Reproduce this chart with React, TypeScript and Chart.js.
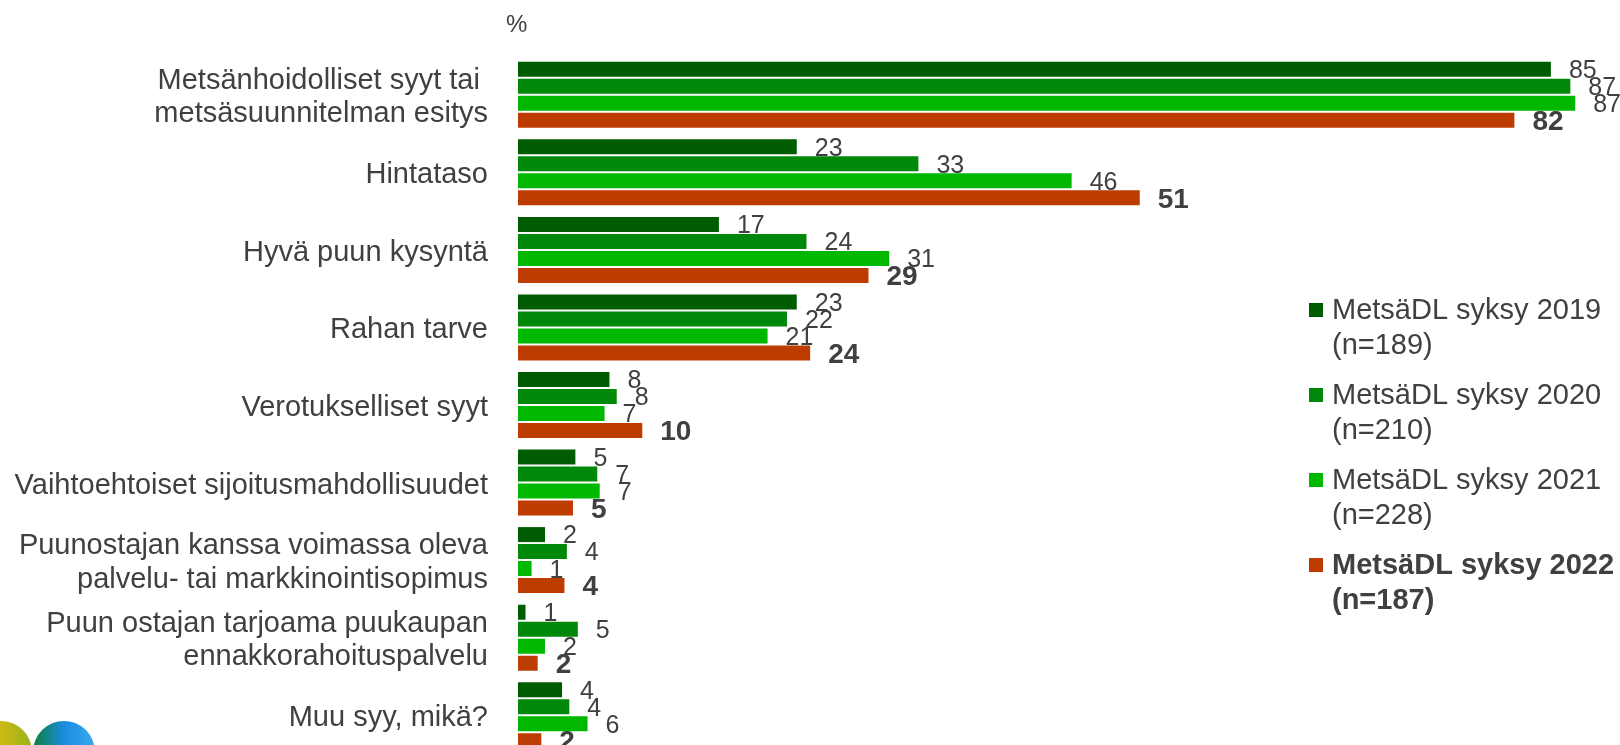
import { useEffect, useRef } from "react";
import { Chart, registerables } from "chart.js";

Chart.register(...registerables);

const FONT = "'Liberation Sans', Arial, Helvetica, sans-serif";
const TEXT = "#404040";

const CATEGORIES: (string | string[])[] = [
  ["Metsänhoidolliset syyt tai ", "metsäsuunnitelman esitys"],
  "Hintataso",
  "Hyvä puun kysyntä",
  "Rahan tarve",
  "Verotukselliset syyt",
  "Vaihtoehtoiset sijoitusmahdollisuudet",
  ["Puunostajan kanssa voimassa oleva", "palvelu- tai markkinointisopimus"],
  ["Puun ostajan tarjoama puukaupan", "ennakkorahoituspalvelu"],
  "Muu syy, mikä?",
];

const SERIES_NAMES: string[][] = [
  ["MetsäDL syksy 2019", "(n=189)"],
  ["MetsäDL syksy 2020", "(n=210)"],
  ["MetsäDL syksy 2021", "(n=228)"],
  ["MetsäDL syksy 2022", "(n=187)"],
];

const VALUES_2019 = [85, 23, 16.6, 23, 7.6, 4.8, 2.3, 0.7, 3.7];
const VALUES_2020 = [86.6, 33, 23.8, 22.2, 8.2, 6.6, 4.1, 5, 4.3];
const VALUES_2021 = [87, 45.6, 30.6, 20.6, 7.2, 6.8, 1.2, 2.3, 5.8];
const VALUES_2022 = [82, 51.2, 28.9, 24.1, 10.3, 4.6, 3.9, 1.7, 2.0];

const SERIES_VALUES = [VALUES_2019, VALUES_2020, VALUES_2021, VALUES_2022];
const COLORS = ["#005C00", "#00880A", "#00B800", "#BF3C00"];

export default function App() {
  const ref = useRef<HTMLCanvasElement>(null);

  useEffect(() => {
    const canvas = ref.current;
    if (!canvas) return;

    const overlay = {
      id: "overlay",
      afterDatasetsDraw(chart: any) {
        const ctx = chart.ctx;
        ctx.save();
        ctx.textBaseline = "middle";
        ctx.textAlign = "left";
        ctx.fillStyle = TEXT;
        SERIES_VALUES.forEach((vals, i) => {
          const meta = chart.getDatasetMeta(i);
          const bold = i === 3;
          ctx.font = bold ? `bold 28px ${FONT}` : `25px ${FONT}`;
          meta.data.forEach((bar: any, j: number) => {
            ctx.fillText(String(Math.round(vals[j])), bar.x + 17, bar.y + 2);
          });
        });
        ctx.restore();
      },
      afterDraw(chart: any) {
        const ctx = chart.ctx;
        ctx.save();
        // "%" unit label
        ctx.fillStyle = TEXT;
        ctx.font = `24px ${FONT}`;
        ctx.textBaseline = "middle";
        ctx.textAlign = "left";
        ctx.fillText("%", chart.chartArea.left - 12, 25);

        // legend
        SERIES_NAMES.forEach((lines, i) => {
          const y1 = 310 + 85 * i;
          ctx.fillStyle = COLORS[i];
          ctx.fillRect(1309, y1 - 7, 14, 14);
          ctx.fillStyle = TEXT;
          ctx.font = i === 3 ? `bold 29px ${FONT}` : `29px ${FONT}`;
          lines.forEach((t, k) => ctx.fillText(t, 1332, y1 + 1 + k * 35));
        });

        // logo circles
        const g1 = ctx.createLinearGradient(-30, 0, 32, 0);
        g1.addColorStop(0, "#FFC20E");
        g1.addColorStop(1, "#98B21C");
        ctx.fillStyle = g1;
        ctx.beginPath();
        ctx.arc(1, 752, 31, 0, Math.PI * 2);
        ctx.fill();
        const g2 = ctx.createLinearGradient(33, 0, 95, 0);
        g2.addColorStop(0, "#0E7F3C");
        g2.addColorStop(0.5, "#1B8BDF");
        g2.addColorStop(1, "#3AAAF0");
        ctx.fillStyle = g2;
        ctx.beginPath();
        ctx.arc(64, 752, 31, 0, Math.PI * 2);
        ctx.fill();
        ctx.restore();
      },
    };

    const chart = new Chart(canvas, {
      type: "bar",
      data: {
        labels: CATEGORIES as any,
        datasets: SERIES_VALUES.map((vals, i) => ({
          label: SERIES_NAMES[i].join(" "),
          data: vals,
          backgroundColor: COLORS[i],
          borderColor: "rgba(255,255,255,0.55)",
          borderWidth: 1,
          categoryPercentage: 0.877,
          barPercentage: 1.0,
        })),
      },
      options: {
        indexAxis: "y",
        responsive: false,
        animation: false,
        layout: { padding: { top: 56, bottom: 6, left: 0, right: 0 } },
        plugins: {
          legend: { display: false },
          tooltip: { enabled: false },
        },
        scales: {
          x: { display: false, min: 0, max: 90.6 },
          y: {
            grid: { display: false, drawTicks: false },
            border: { display: false },
            ticks: {
              autoSkip: false,
              padding: 30,
              labelOffset: 3,
              color: TEXT,
              font: { family: FONT, size: 29, lineHeight: 1.15 },
            },
            afterFit(scale: any) {
              scale.width = 518;
              scale.paddingTop = 0;
              scale.paddingBottom = 0;
            },
          },
        },
      } as any,
      plugins: [overlay],
    });

    return () => chart.destroy();
  }, []);

  return (
    <div
      style={{
        position: "fixed",
        left: 0,
        top: 0,
        width: 1620,
        height: 745,
        overflow: "hidden",
        background: "#fff",
      }}
    >
      <canvas ref={ref} width={1620} height={760} style={{ display: "block", width: 1620, height: 760 }} />
    </div>
  );
}
